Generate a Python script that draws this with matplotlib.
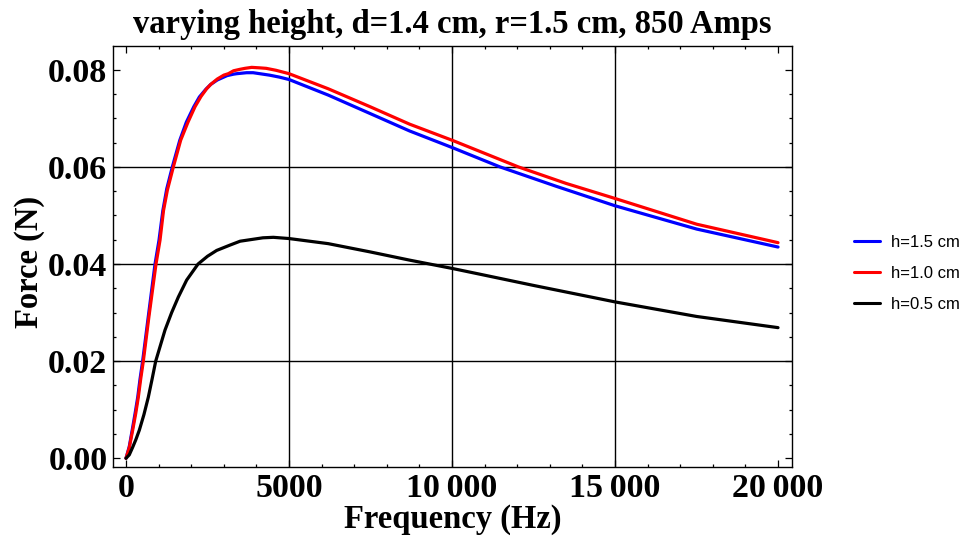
import matplotlib
matplotlib.use("Agg")
import matplotlib.pyplot as plt
from matplotlib.ticker import MultipleLocator

# ---- data ----
freq_15 = [0, 100, 190, 280, 360, 430, 510, 680, 890, 1012, 1130, 1250, 1421, 1650, 1850,
           2080, 2250, 2450, 2600, 2800, 3000, 3100, 3300, 3400, 3700, 3900, 4200, 4400,
           4700, 5000, 6200, 7485, 8700, 10000, 11472, 13200, 15000, 17505, 20000]
force_15 = [0, 0.0024, 0.0058, 0.0093, 0.0126, 0.0163, 0.020, 0.029, 0.040, 0.0449, 0.051,
            0.0555, 0.060, 0.0655, 0.0692, 0.0724, 0.0744, 0.0760, 0.0770, 0.0779, 0.0785,
            0.0788, 0.0791, 0.0792, 0.0794, 0.0794, 0.0791, 0.0789, 0.0785, 0.0780, 0.0748,
            0.0710, 0.0674, 0.0640, 0.0600, 0.0560, 0.0520, 0.0472, 0.0435]

freq_10 = [0, 100, 205, 300, 378, 450, 531, 700, 920, 1043, 1150, 1268, 1452, 1677, 1900,
           2117, 2300, 2474, 2600, 2800, 3000, 3139, 3300, 3497, 3650, 3855, 4100, 4300,
           4600, 5000, 6200, 7485, 8700, 10000, 12035, 13500, 15000, 17505, 20000]
force_10 = [0, 0.0022, 0.0058, 0.0093, 0.0126, 0.0163, 0.020, 0.029, 0.040, 0.0449, 0.051,
            0.0552, 0.060, 0.0655, 0.0692, 0.0724, 0.0745, 0.0761, 0.0770, 0.0781, 0.0789,
            0.0792, 0.0798, 0.0801, 0.0803, 0.0805, 0.0804, 0.0803, 0.0799, 0.0792, 0.0761,
            0.0724, 0.0688, 0.0655, 0.0600, 0.0566, 0.0535, 0.0482, 0.0444]

freq_05 = [0, 100, 200, 300, 409, 550, 685, 800, 911, 1000, 1196, 1400, 1605, 1861, 2210,
           2500, 2781, 3190, 3500, 3800, 4200, 4520, 5000, 6200, 7485, 8700, 10000, 10859,
           12495, 15000, 17505, 20000]
force_05 = [0, 0.0007, 0.0022, 0.0038, 0.0058, 0.0090, 0.0126, 0.0163, 0.020, 0.0220,
            0.0264, 0.0300, 0.0332, 0.0367, 0.040, 0.0416, 0.0428, 0.0439, 0.0447, 0.0450,
            0.0454, 0.0455, 0.04525, 0.0442, 0.0425, 0.0408, 0.0391, 0.0379, 0.0356,
            0.0322, 0.0292, 0.0269]

series = [
    ("h=1.5 cm", freq_15, force_15, "#0000ff"),
    ("h=1.0 cm", freq_10, force_10, "#ff0000"),
    ("h=0.5 cm", freq_05, force_05, "#000000"),
]

x_ticks = [0, 5000, 10000, 15000, 20000]
x_tick_labels = ["0", "5000", "10\u2009000", "15\u2009000", "20\u2009000"]
y_ticks = [0.00, 0.02, 0.04, 0.06, 0.08]
y_tick_labels = ["0.00", "0.02", "0.04", "0.06", "0.08"]
x_grid = [5000, 10000, 15000]
y_grid = [0.02, 0.04, 0.06]

title = "varying height, d=1.4 cm, r=1.5 cm, 850 Amps"
xlabel = "Frequency (Hz)"
ylabel = "Force (N)"

serif = ["Liberation Serif", "DejaVu Serif"]

fig = plt.figure(figsize=(9.64, 5.41), dpi=100)
ax = fig.add_axes([113 / 964, 1 - 467 / 541, (792 - 113) / 964, (467 - 46) / 541])

for xg in x_grid:
    ax.axvline(xg, color="black", lw=1.0, zorder=1)
for yg in y_grid:
    ax.axhline(yg, color="black", lw=1.0, zorder=1)

for label, f, F, c in series:
    ax.plot(f, F, color=c, lw=2.3, label=label, zorder=3,
            solid_capstyle="round", solid_joinstyle="round")

ax.set_xlim(-399, 20429)
ax.set_ylim(-0.0018, 0.0849)

ax.set_xticks(x_ticks, x_tick_labels)
ax.set_yticks(y_ticks, y_tick_labels)
ax.xaxis.set_minor_locator(MultipleLocator(1000))
ax.yaxis.set_minor_locator(MultipleLocator(0.005))
ax.tick_params(which="both", direction="in", top=True, right=True, color="black", width=0.9)
ax.tick_params(which="major", length=5, pad=4)
ax.tick_params(which="minor", length=2.5)
for lab in ax.get_xticklabels() + ax.get_yticklabels():
    lab.set_family(serif)
    lab.set_fontweight("bold")
    lab.set_fontsize(24.5)
for s in ax.spines.values():
    s.set_linewidth(1.0)
    s.set_color("black")

ax.set_title(title, family=serif, fontweight="bold", fontsize=23.5, pad=9)
ax.set_xlabel(xlabel, family=serif, fontweight="bold", fontsize=23.5, labelpad=0)
ax.set_ylabel(ylabel, family=serif, fontweight="bold", fontsize=23.5)
ax.yaxis.set_label_coords(-0.100, 0.487)

leg = ax.legend(loc="center left", bbox_to_anchor=(854 / 964, 1 - 273.5 / 541),
                bbox_transform=fig.transFigure, frameon=False,
                prop={"family": ["Liberation Sans", "DejaVu Sans"], "size": 12},
                handlelength=1.56, handletextpad=0.66, labelspacing=0.97,
                borderpad=0, borderaxespad=0)
for line in leg.get_lines():
    line.set_linewidth(2.2)

fig.savefig("out.png", dpi=100)
